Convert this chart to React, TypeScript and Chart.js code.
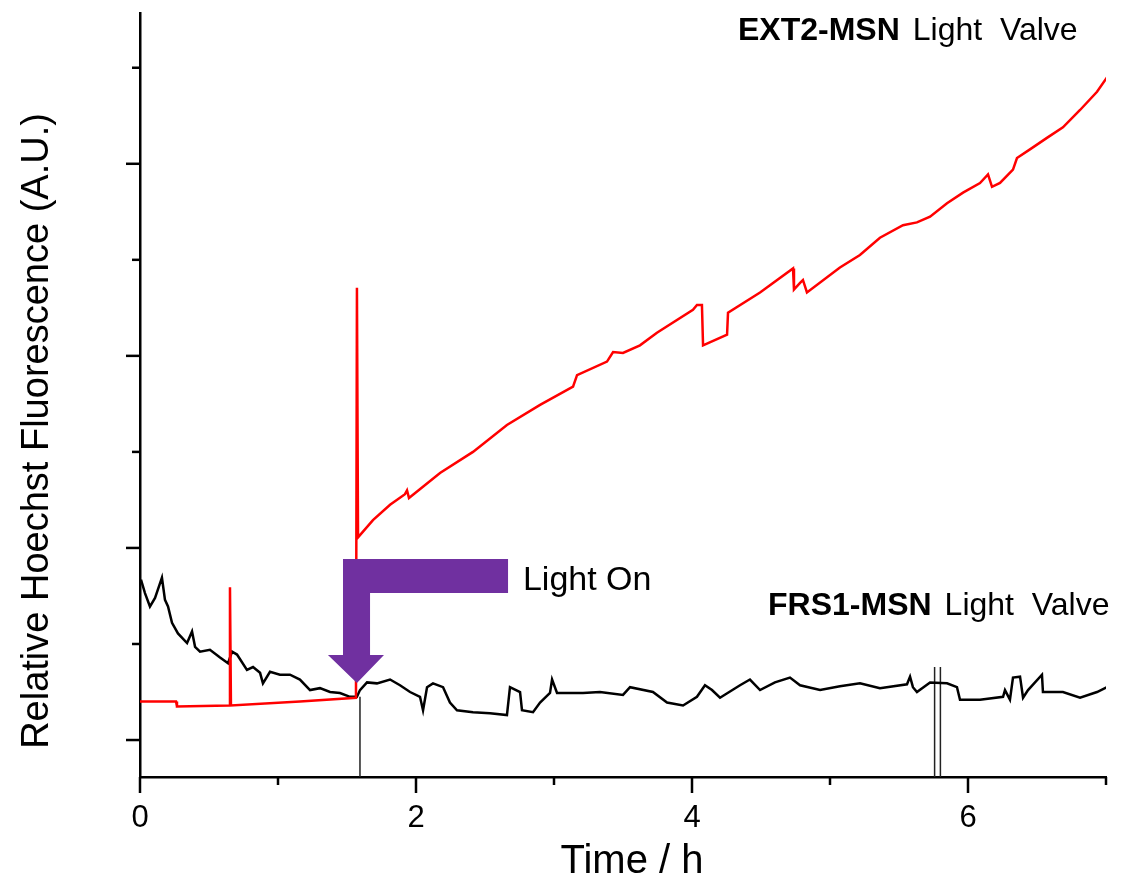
import React, { useEffect, useRef } from "react";
import { Chart, registerables } from "chart.js";

Chart.register(...registerables);

const FONT = "'Liberation Sans', Arial, Helvetica, sans-serif";

// EXT2-MSN light valve (red)
const ext2Time = [0.000,0.261,0.268,0.645,0.652,0.659,1.159,1.565,1.572,1.580,1.688,1.812,1.920,1.935,1.949,2.174,2.413,2.659,2.899,3.138,3.167,3.384,3.428,3.500,3.623,3.746,4.007,4.036,4.072,4.080,4.254,4.261,4.493,4.732,4.739,4.783,4.804,4.833,5.072,5.217,5.362,5.529,5.630,5.725,5.848,5.964,6.087,6.145,6.174,6.232,6.326,6.355,6.449,6.572,6.688,6.812,6.935,7.007];
const ext2Signal = [4.0,4.0,3.5,3.6,15.9,3.6,4.0,4.4,47.1,21.1,22.9,24.5,25.6,26.0,25.2,27.8,30.0,32.8,34.9,36.8,38.0,39.4,40.4,40.3,41.1,42.4,44.8,45.3,45.3,41.1,42.2,44.5,46.6,49.1,46.9,47.6,47.9,46.6,49.2,50.5,52.3,53.6,53.9,54.5,55.9,57.0,58.0,58.9,57.6,58.0,59.4,60.6,61.5,62.7,63.8,65.6,67.5,69.0];

// FRS1-MSN light valve (black)
const frs1Time = [0.007,0.036,0.072,0.109,0.159,0.181,0.203,0.232,0.275,0.341,0.377,0.399,0.435,0.507,0.580,0.638,0.667,0.703,0.775,0.819,0.870,0.891,0.942,1.014,1.087,1.159,1.232,1.304,1.377,1.449,1.522,1.572,1.594,1.645,1.717,1.812,1.884,1.957,2.029,2.051,2.080,2.123,2.196,2.246,2.297,2.413,2.536,2.659,2.681,2.754,2.768,2.848,2.899,2.971,2.986,3.022,3.210,3.333,3.500,3.551,3.717,3.819,3.935,4.036,4.094,4.145,4.203,4.348,4.420,4.493,4.601,4.710,4.783,4.928,5.072,5.217,5.362,5.558,5.580,5.601,5.630,5.725,5.848,5.920,5.942,6.087,6.254,6.268,6.304,6.326,6.377,6.399,6.435,6.536,6.543,6.688,6.812,6.935,7.007];
const frs1Signal = [16.7,15.3,13.9,14.8,16.9,14.6,13.9,12.2,11.1,10.1,11.3,9.7,9.2,9.4,8.6,8.0,9.2,8.9,7.3,7.6,7.0,5.9,7.1,6.8,6.8,6.3,5.2,5.4,5.0,4.9,4.5,4.5,5.2,6.0,5.9,6.3,5.7,5.0,4.5,3.1,5.5,5.9,5.5,3.9,3.1,2.9,2.8,2.6,5.5,5.0,3.1,2.9,3.9,4.9,6.3,4.9,4.9,5.0,4.7,5.5,5.0,3.9,3.6,4.5,5.7,5.2,4.4,5.7,6.3,5.2,6.0,6.5,5.7,5.2,5.6,5.9,5.4,5.8,6.6,5.5,5.0,6.0,5.9,5.5,4.2,4.2,4.5,5.2,4.2,6.5,6.6,4.4,5.2,6.8,5.0,5.0,4.4,5.0,5.5];

// thin vertical instrument marks (black)
const markerTime = [1.594,1.594,1.594,5.758,5.758,5.758,5.800,5.800];
const markerSignal = [4.5,-3.85,null,7.6,-3.85,null,7.6,-3.85];

// axes
const xMin = 0;
const xMax = 7;
const yMin = -3.85;
const yMax = 75.7;
const xTickValues = [0,1,2,3,4,5,6,7];
const xTickLabels = ["0","","2","","4","","6",""];
const xMajorTicks = [0,2,4,6];
const yTickValues = [0,10,20,30,40,50,60,70];
const yMajorTicks = [0,20,40,60];

// annotations (data coordinates)
const ext2Label = { x: 4.333, y: 73.8, bold: "EXT2-MSN", rest: "Light  Valve" };
const frs1Label = { x: 4.551, y: 13.96, bold: "FRS1-MSN", rest: "Light  Valve" };
const lightOnLabel = { x: 2.775, y: 16.56, text: "Light On" };
const arrowShape = { barLeft: 1.471, barRight: 2.667, barTop: 18.85, barBottom: 15.3, stemRight: 1.667, stemBottom: 8.85, headLeft: 1.362, headRight: 1.768, tipX: 1.572, tipY: 5.94 };

const toPoints = (xs: number[], ys: (number | null)[]) => xs.map((x, i) => ({ x, y: ys[i] }));

const overlayPlugin = {
  id: "overlay",
  afterDraw(chart: any) {
    const { ctx, chartArea } = chart;
    const xs = chart.scales.x;
    const ys = chart.scales.y;
    const X = (v: number) => xs.getPixelForValue(v);
    const Y = (v: number) => ys.getPixelForValue(v);
    ctx.save();
    // tick marks
    ctx.strokeStyle = "#000";
    ctx.lineWidth = 2.5;
    ctx.lineCap = "butt";
    for (const t of xTickValues) {
      const px = X(t);
      const len = xMajorTicks.includes(t) ? 16 : 8;
      ctx.beginPath();
      ctx.moveTo(px, chartArea.bottom);
      ctx.lineTo(px, chartArea.bottom + len);
      ctx.stroke();
    }
    for (const v of yTickValues) {
      const py = Y(v);
      const len = yMajorTicks.includes(v) ? 14 : 8;
      ctx.beginPath();
      ctx.moveTo(chartArea.left, py);
      ctx.lineTo(chartArea.left - len, py);
      ctx.stroke();
    }
    // arrow
    const a = arrowShape;
    ctx.fillStyle = "#7030A0";
    ctx.beginPath();
    ctx.moveTo(X(a.barLeft), Y(a.barTop));
    ctx.lineTo(X(a.barRight), Y(a.barTop));
    ctx.lineTo(X(a.barRight), Y(a.barBottom));
    ctx.lineTo(X(a.stemRight), Y(a.barBottom));
    ctx.lineTo(X(a.stemRight), Y(a.stemBottom));
    ctx.lineTo(X(a.headRight), Y(a.stemBottom));
    ctx.lineTo(X(a.tipX), Y(a.tipY));
    ctx.lineTo(X(a.headLeft), Y(a.stemBottom));
    ctx.lineTo(X(a.barLeft), Y(a.stemBottom));
    ctx.closePath();
    ctx.fill();
    // labels
    ctx.fillStyle = "#000";
    ctx.textBaseline = "middle";
    ctx.textAlign = "left";
    for (const lab of [ext2Label, frs1Label]) {
      const px = X(lab.x);
      const py = Y(lab.y);
      ctx.font = `bold 32px ${FONT}`;
      ctx.fillText(lab.bold, px, py);
      const w = ctx.measureText(lab.bold).width;
      ctx.font = `32px ${FONT}`;
      ctx.fillText(lab.rest, px + w + 13, py);
    }
    ctx.font = `34px ${FONT}`;
    ctx.fillText(lightOnLabel.text, X(lightOnLabel.x), Y(lightOnLabel.y));
    // axis titles
    ctx.textAlign = "center";
    ctx.font = `40px ${FONT}`;
    ctx.fillText("Time / h", 632, 862);
    ctx.translate(38, 431);
    ctx.rotate(-Math.PI / 2);
    ctx.font = `38px ${FONT}`;
    ctx.fillText("Relative Hoechst Fluorescence (A.U.)", 0, 0);
    ctx.restore();
  },
};

export default function App() {
  const ref = useRef<HTMLCanvasElement | null>(null);
  useEffect(() => {
    if (!ref.current) return;
    const chart = new Chart(ref.current, {
      type: "line",
      data: {
        datasets: [
          {
            label: "EXT2-MSN",
            data: toPoints(ext2Time, ext2Signal),
            borderColor: "#ff0000",
            borderWidth: 2.5,
            pointRadius: 0,
            tension: 0,
            fill: false,
          },
          {
            label: "FRS1-MSN",
            data: toPoints(frs1Time, frs1Signal),
            borderColor: "#000000",
            borderWidth: 2.5,
            pointRadius: 0,
            tension: 0,
            fill: false,
          },
          {
            label: "marks",
            data: toPoints(markerTime, markerSignal),
            borderColor: "#222222",
            borderWidth: 1.5,
            pointRadius: 0,
            spanGaps: false,
            fill: false,
          },
        ],
      },
      options: {
        responsive: false,
        animation: false,
        layout: { padding: { top: 13, right: 10, left: 0, bottom: 0 } },
        plugins: { legend: { display: false }, tooltip: { enabled: false } },
        scales: {
          x: {
            type: "linear",
            min: xMin,
            max: xMax,
            afterBuildTicks: (s: any) => {
              s.ticks = xTickValues.map((v) => ({ value: v }));
            },
            ticks: {
              callback: (_v: any, i: number) => xTickLabels[i],
              font: { family: FONT, size: 31 },
              color: "#000",
              padding: 15,
              autoSkip: false,
              maxRotation: 0,
            },
            grid: { display: false },
            border: { display: true, color: "#000", width: 2.5 },
            afterFit: (s: any) => {
              s.height = 109;
            },
          },
          y: {
            type: "linear",
            min: yMin,
            max: yMax,
            ticks: { display: false },
            grid: { display: false },
            border: { display: true, color: "#000", width: 2.5 },
            afterFit: (s: any) => {
              s.width = 140;
            },
          },
        },
      },
      plugins: [overlayPlugin],
    });
    return () => chart.destroy();
  }, []);
  return (
    <div style={{ position: "fixed", left: 0, top: 0, width: 1121, height: 886, background: "#fff" }}>
      <canvas ref={ref} width={1121} height={886} style={{ display: "block" }} />
    </div>
  );
}
